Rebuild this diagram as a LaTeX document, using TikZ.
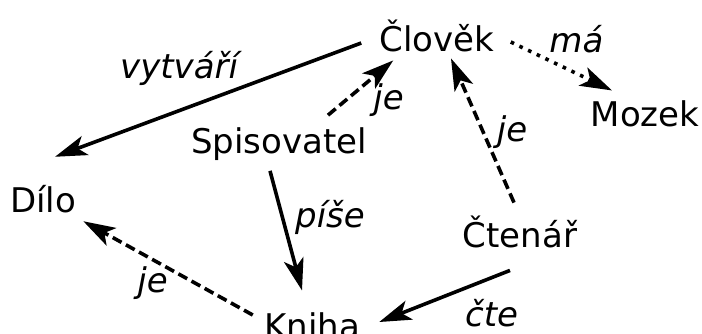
\documentclass[tikz,border=0pt]{standalone}
\usepackage{fontspec}
\setmainfont{DejaVu Sans}
\usepackage{tikz}
\usetikzlibrary{arrows.meta, calc, positioning}
\tikzset{
	pojem/.style={inner sep=2pt, font=\fontsize{17}{20}\selectfont},
	vztah/.style={line width=1.8pt, -{Stealth[length=16pt, width=10pt, inset=4pt]}},
	carkovane/.style={dash pattern=on 5pt off 2.5pt},
	teckovane/.style={dash pattern=on 1.8pt off 3pt},
	popis/.style={inner sep=0pt, font=\fontsize{17}{20}\selectfont\itshape},
}

\begin{document}
\begin{tikzpicture}[x=0.5pt, y=-0.5pt]
			\useasboundingbox (0,0) rectangle (702,333);
			
			\node[pojem] (clovek) at (437,36) {Člověk};
			\node[pojem] (mozek) at (645,114) {Mozek};
			\node[pojem] (spis) at (279,144) {Spisovatel};
			\node[pojem] (dilo) at (43,199) {Dílo};
			\node[pojem] (ctenar) at (520,232) {Čtenář};
			\node[pojem] (kniha) at (312,326) {Kniha};
			
			\draw[vztah] ($(clovek.west)+(-14,7)$) -- ($(dilo.north)+(12,-24)$) node[popis, midway, xshift=-14.5pt, yshift=15.75pt] (l1) {vytváří};
			\draw[vztah, carkovane] ($(spis.north)+(49,-8)$) -- ($(clovek.south west)+(18,4)$) node[popis, midway, xshift=14pt, yshift=-6pt] (l2) {je};
			\draw[vztah, teckovane] ($(clovek.east)+(12,6)$) -- ($(mozek.north)+(-33,-6)$) node[popis, midway, xshift=7.5pt, yshift=13.5pt] (l3) {má};
			\draw[vztah, carkovane] ($(ctenar.north)+(-6,-9)$) -- ($(clovek.south)+(14,2)$) node[popis, midway, xshift=14.75pt, yshift=-1pt] (l4) {je};
			\draw[vztah] ($(spis.south)+(-9,6)$) -- ($(kniha.north)+(-10,-18)$) node[popis, midway, xshift=22pt, yshift=6.5pt] (l5) {píše};
			\draw[vztah, carkovane] ($(kniha.west)+(-7,-11)$) -- ($(dilo.south east)+(3,4)$) node[popis, midway, xshift=-7.75pt, yshift=-7.5pt] (l6) {je};
			\draw[vztah] ($(ctenar.south)+(-10,18)$) -- ($(kniha.east)+(15,-4)$) node[popis, midway, xshift=23.5pt, yshift=-8.5pt] (l7) {čte};
			
		\end{tikzpicture}
\end{document}
